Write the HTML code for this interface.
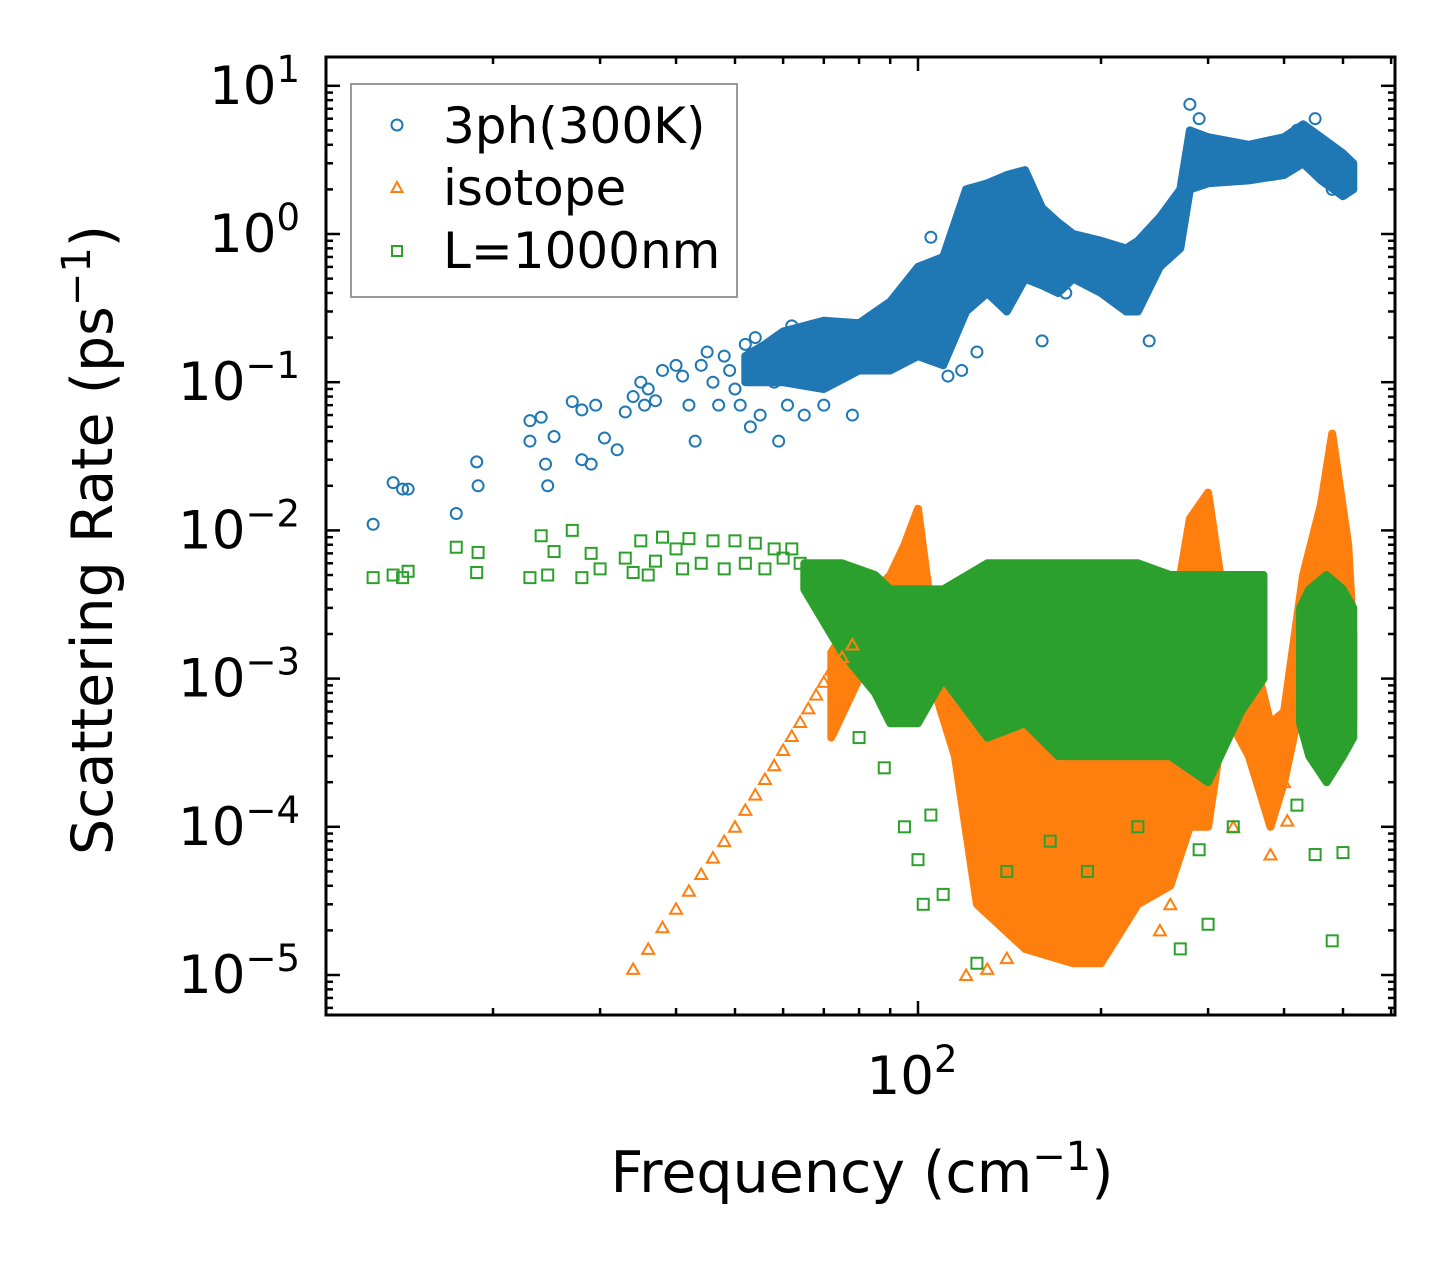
<!DOCTYPE html>
<html><head><meta charset="utf-8"><style>
html,body{margin:0;padding:0;background:#fff}
svg{display:block;font-family:"DejaVu Sans","Liberation Sans",sans-serif}
</style></head><body>
<svg id="chart" width="1455" height="1265" viewBox="0 0 1455 1265" xmlns="http://www.w3.org/2000/svg">
<g id="bands"></g>
<g id="marks"></g>
<g id="axes"></g>
<g id="legend">
<rect x="351" y="84" width="386" height="213" fill="#fff" fill-opacity="0.85" stroke="#999" stroke-width="2"/>
<circle cx="397" cy="125" r="5.5" fill="none" stroke="#1f77b4" stroke-width="2"/>
<text x="443" y="143" font-size="50">3ph(300K)</text>
<path d="M397,182 L402.5,192 L391.5,192 Z" fill="none" stroke="#ff7f0e" stroke-width="2"/>
<text x="443" y="205" font-size="50">isotope</text>
<rect x="392" y="246" width="10" height="10" fill="none" stroke="#2ca02c" stroke-width="2"/>
<text x="443" y="268" font-size="50">L=1000nm</text>
</g>
<text x="862" y="1192" font-size="57" text-anchor="middle">Frequency (cm<tspan dy="-22" font-size="40">−1</tspan><tspan dy="22">)</tspan></text>
<text transform="translate(112,540) rotate(-90)" font-size="57" text-anchor="middle">Scattering Rate (ps<tspan dy="-22" font-size="40">−1</tspan><tspan dy="22">)</tspan></text>
</svg>
<script>
// ---------- data ----------
const blueFreq = [12.7,13.7,14.2,14.5,17.4,18.8,18.9,23,23,24,24.4,24.6,25.2,27,28,28,29,29.5,30.5,32,33,34,35,35.5,36,37,38,40,41,42,43,44,45,46,47,48,49,50,51,52,53,54,55,56,58,59,60,61,62,64,65,70,78,92,105,112,118,125,160,175,240,262,280,290,300,420,450,480];
const blueRate = [0.011,0.021,0.019,0.019,0.013,0.029,0.020,0.055,0.04,0.058,0.028,0.02,0.043,0.074,0.03,0.065,0.028,0.07,0.042,0.035,0.063,0.08,0.1,0.07,0.09,0.075,0.12,0.13,0.11,0.07,0.04,0.13,0.16,0.1,0.07,0.15,0.12,0.09,0.07,0.18,0.05,0.2,0.06,0.14,0.1,0.04,0.2,0.07,0.24,0.11,0.06,0.07,0.06,0.2,0.95,0.11,0.12,0.16,0.19,0.4,0.19,0.8,7.5,6,3,5,6,2];
const blueBandFreq = [52,56,60,70,80,90,100,110,120,130,140,150,160,170,180,200,220,230,250,270,280,300,350,400,430,460,500,520];
const blueBandLow  = [0.1,0.1,0.1,0.09,0.12,0.12,0.15,0.13,0.3,0.4,0.3,0.5,0.45,0.4,0.5,0.4,0.3,0.3,0.6,0.8,2.0,2.2,2.3,2.5,3.0,2.3,1.8,2.0];
const blueBandHigh = [0.15,0.18,0.22,0.26,0.25,0.35,0.6,0.7,2.0,2.2,2.5,2.7,1.5,1.2,1.0,0.9,0.8,0.9,1.3,2.0,5.0,4.5,4.0,4.5,5.5,4.5,3.5,3.0];

const orangeFreq = [34,36,38,40,42,44,46,48,50,52,54,56,58,60,62,64,66,68,70,72,75,78,120,130,140,250,260,330,380,400,405];
const orangeRate = [1.1e-5,1.5e-5,2.1e-5,2.8e-5,3.7e-5,4.8e-5,6.2e-5,8e-5,1.0e-4,1.3e-4,1.65e-4,2.1e-4,2.6e-4,3.3e-4,4.1e-4,5.1e-4,6.3e-4,7.8e-4,9.5e-4,1.15e-3,1.4e-3,1.7e-3,1e-5,1.1e-5,1.3e-5,2e-5,3e-5,1e-4,6.5e-5,2e-4,1.1e-4];
const orangeBandFreq = [72,80,90,95,100,105,115,125,150,180,200,230,260,280,300,320,350,380,400,430,460,480,510,520];
const orangeBandLow  = [4e-4,1e-3,1e-3,1e-3,2e-3,1e-3,3e-4,3e-5,1.5e-5,1.2e-5,1.2e-5,3e-5,4e-5,1e-4,1e-4,6e-4,3e-4,1e-4,2e-4,8e-4,3e-3,5e-3,8e-4,5e-4];
const orangeBandHigh = [1.5e-3,3e-3,5e-3,8e-3,1.4e-2,3e-3,2e-3,1e-3,5e-4,6e-4,5e-4,8e-4,2e-3,1.2e-2,1.8e-2,3e-3,2e-3,5e-4,6e-4,5e-3,1.5e-2,4.5e-2,8e-3,2e-3];

const greenFreq = [12.7,13.7,14.2,14.5,17.4,18.8,18.9,23,24,24.6,25.2,27,28,29,30,33,34,35,36,37,38,40,41,42,44,46,48,50,52,54,56,58,60,62,64,95,100,102,105,110,125,140,165,190,230,270,290,300,330,420,450,500,480,80,88];
const greenRate = [4.8e-3,5e-3,4.8e-3,5.3e-3,7.7e-3,5.2e-3,7.1e-3,4.8e-3,9.2e-3,5e-3,7.2e-3,1e-2,4.8e-3,7e-3,5.5e-3,6.5e-3,5.2e-3,8.5e-3,5e-3,6.2e-3,9e-3,7.5e-3,5.5e-3,8.8e-3,6e-3,8.5e-3,5.5e-3,8.5e-3,6e-3,8.2e-3,5.5e-3,7.5e-3,6.5e-3,7.5e-3,6e-3,1e-4,6e-5,3e-5,1.2e-4,3.5e-5,1.2e-5,5e-5,8e-5,5e-5,1e-4,1.5e-5,7e-5,2.2e-5,1e-4,1.4e-4,6.5e-5,6.7e-5,1.7e-5,4e-4,2.5e-4];
const greenBandFreq = [65,75,85,90,100,110,130,150,170,200,230,260,300,340,370];
const greenBandLow  = [4e-3,1.5e-3,8e-4,5e-4,5e-4,1e-3,4e-4,5e-4,3e-4,3e-4,3e-4,3e-4,2e-4,6e-4,1e-3];
const greenBandHigh = [6e-3,6e-3,5e-3,4e-3,4e-3,4e-3,6e-3,6e-3,6e-3,6e-3,6e-3,5e-3,5e-3,5e-3,5e-3];
const green2BandFreq = [425,440,470,500,520];
const green2BandLow  = [5e-4,3e-4,2e-4,3e-4,4e-4];
const green2BandHigh = [3e-3,4e-3,5e-3,4e-3,3e-3];

const yTickExp = [1,0,-1,-2,-3,-4,-5];
const xTickLabelExp = [2];

// ---------- axes functions ----------
const L=326,R=1395,T=57,B=1015;
function xs(f){return 918+608*Math.log10(f/100);}
function ys(r){return 234-148.2*Math.log10(r);}
const NS="http://www.w3.org/2000/svg";
function mk(tag,attrs,parent){const e=document.createElementNS(NS,tag);for(const k in attrs)e.setAttribute(k,attrs[k]);parent.appendChild(e);return e;}

const bands=document.getElementById('bands'),marks=document.getElementById('marks'),axes=document.getElementById('axes');

function band(freq,low,high,color,name){
  let d='M'+freq.map((f,i)=>xs(f).toFixed(1)+','+ys(high[i]).toFixed(1)).join(' L');
  for(let i=freq.length-1;i>=0;i--) d+=' L'+xs(freq[i]).toFixed(1)+','+ys(low[i]).toFixed(1);
  d+='Z';
  const p=mk('path',{d:d,fill:color,stroke:color,'stroke-width':8,'stroke-linejoin':'round'},bands);
  
  
}
band(blueBandFreq,blueBandLow,blueBandHigh,'#1f77b4','band-3ph');
band(orangeBandFreq,orangeBandLow,orangeBandHigh,'#ff7f0e','band-isotope');
band(greenBandFreq,greenBandLow,greenBandHigh,'#2ca02c','band-l1000');
band(green2BandFreq,green2BandLow,green2BandHigh,'#2ca02c','band-l1000-high');

blueFreq.forEach((f,i)=>{
  const c=mk('circle',{cx:xs(f),cy:ys(blueRate[i]),r:5.5,fill:'none',stroke:'#1f77b4','stroke-width':2},marks);
  
  
});
orangeFreq.forEach((f,i)=>{
  const x=xs(f),y=ys(orangeRate[i]);
  const c=mk('path',{d:`M${x},${y-5.5} L${x+6},${y+5} L${x-6},${y+5} Z`,fill:'none',stroke:'#ff7f0e','stroke-width':2},marks);
  
  
});
greenFreq.forEach((f,i)=>{
  const c=mk('rect',{x:xs(f)-5.5,y:ys(greenRate[i])-5.5,width:11,height:11,fill:'none',stroke:'#2ca02c','stroke-width':2},marks);
  
  
});

// frame
const fr=mk('rect',{x:L,y:T,width:R-L,height:B-T,fill:'none',stroke:'#000','stroke-width':3},axes);


// y ticks
for(let e=-6;e<=1;e++){
  for(let m=1;m<10;m++){
    const y=ys(m*Math.pow(10,e)); if(y<T||y>B) continue;
    const len=m===1?14:7;
    mk('line',{x1:L,x2:L+len,y1:y,y2:y,stroke:'#000','stroke-width':2.5},axes);
    mk('line',{x1:R,x2:R-len,y1:y,y2:y,stroke:'#000','stroke-width':2.5},axes);
  }
}
yTickExp.forEach(e=>{
  const t=mk('text',{x:300,y:ys(Math.pow(10,e))+18,'font-size':53,'text-anchor':'end'},axes);
  
  
  t.innerHTML='10<tspan dy="-22" font-size="37">'+(e<0?'−'+(-e):e)+'</tspan>';
});
// x ticks
for(let e=1;e<=2;e++){
  for(let m=1;m<10;m++){
    const x=xs(m*Math.pow(10,e)); if(x<L||x>R) continue;
    const len=m===1?14:7;
    mk('line',{x1:x,x2:x,y1:B,y2:B-len,stroke:'#000','stroke-width':2.5},axes);
    mk('line',{x1:x,x2:x,y1:T,y2:T+len,stroke:'#000','stroke-width':2.5},axes);
  }
}
xTickLabelExp.forEach(e=>{
  const t=mk('text',{x:xs(Math.pow(10,e))-6,y:1094,'font-size':53,'text-anchor':'middle'},axes);
  
  
  t.innerHTML='10<tspan dy="-22" font-size="37">'+e+'</tspan>';
});
</script>
</body></html>
